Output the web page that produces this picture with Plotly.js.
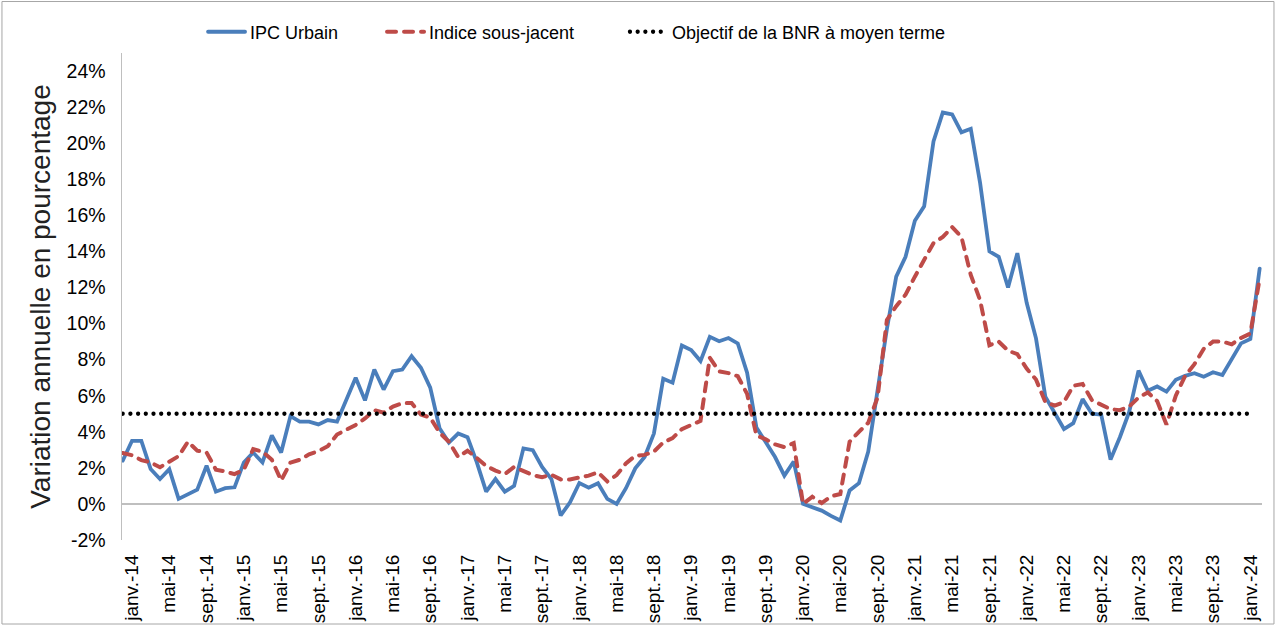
<!DOCTYPE html>
<html>
<head>
<meta charset="utf-8">
<script src="https://cdn.plot.ly/plotly-3.0.1.min.js"></script>
<style>
  html, body { margin: 0; padding: 0; background: #fff; }
  #chart { width: 1276px; height: 626px; }
  .js-line { stroke-linecap: round; }
</style>
</head>
<body>
<div id="chart"></div>
<script>
// Month abbreviations (French) and years covered: déc.-13 to févr.-24
const monthNames = ['janv.', 'févr.', 'mars', 'avr.', 'mai', 'juin', 'juil.', 'août', 'sept.', 'oct.', 'nov.', 'déc.'];
const categories = ['déc.-13'];
for (let y = 14; y <= 23; y++) {
  for (let m = 0; m < 12; m++) categories.push(monthNames[m] + '-' + y);
}
categories.push('janv.-24', 'févr.-24');

// Tick labels shown on the x axis (every 4 months)
const tickLabels = [
  'janv.-14','mai-14','sept.-14','janv.-15','mai-15','sept.-15','janv.-16','mai-16','sept.-16',
  'janv.-17','mai-17','sept.-17','janv.-18','mai-18','sept.-18','janv.-19','mai-19','sept.-19',
  'janv.-20','mai-20','sept.-20','janv.-21','mai-21','sept.-21','janv.-22','mai-22','sept.-22',
  'janv.-23','mai-23','sept.-23','janv.-24'
];

// Y axis ticks
const yTickValues = [-2, 0, 2, 4, 6, 8, 10, 12, 14, 16, 18, 20, 22, 24];
const yTickLabels = ['-2%', '0%', '2%', '4%', '6%', '8%', '10%', '12%', '14%', '16%', '18%', '20%', '22%', '24%'];

// IPC Urbain (annual % change)
const ipcUrbain = [
  2.4, 3.5, 3.5, 1.93, 1.38, 1.93, 0.28, 0.55, 0.79, 2.12,
  0.68, 0.87, 0.92, 2.3, 2.85, 2.3, 3.8, 2.85, 4.87, 4.56,
  4.56, 4.41, 4.65, 4.56, 5.8, 6.99, 5.74, 7.45, 6.34, 7.36,
  7.45, 8.19, 7.55, 6.45, 4.2, 3.4, 3.9, 3.7, 2.3, 0.68,
  1.38, 0.68, 1.0, 3.08, 2.98, 2.05, 1.38, -0.64, 0.09, 1.16,
  0.9, 1.15, 0.28, 0.0, 0.87, 1.97, 2.6, 3.9, 6.94, 6.72,
  8.78, 8.53, 7.92, 9.26, 9.02, 9.2, 8.9, 7.27, 4.24, 3.41,
  2.6, 1.57, 2.35, 0.0, -0.16, -0.37, -0.66, -0.92, 0.75, 1.15,
  2.9, 6.2, 9.7, 12.6, 13.7, 15.7, 16.5, 20.1, 21.7, 21.6,
  20.6, 20.8, 17.8, 14.0, 13.7, 12.0, 13.9, 11.15, 9.18, 5.95,
  5.0, 4.15, 4.48, 5.81, 5.0, 4.95, 2.46, 3.7, 5.1, 7.39,
  6.27, 6.51, 6.23, 6.88, 7.1, 7.25, 7.05, 7.3, 7.15, 8.0,
  8.9, 9.15, 13.05
];

// Indice sous-jacent (annual % change)
const indiceSousJacent = [
  2.82, 2.7, 2.43, 2.3, 2.03, 2.35, 2.65, 3.45, 2.95, 2.85,
  1.9, 1.8, 1.65, 1.9, 3.04, 2.9, 2.45, 1.3, 2.29, 2.45,
  2.75, 2.93, 3.2, 3.85, 4.13, 4.38, 4.74, 5.2, 5.06, 5.4,
  5.58, 5.6, 4.95, 4.79, 3.95, 3.45, 2.6, 2.95, 2.55, 2.1,
  1.85, 1.65, 2.05, 1.82, 1.6, 1.48, 1.62, 1.36, 1.36, 1.47,
  1.57, 1.75, 1.25, 1.6, 2.25, 2.67, 2.72, 2.9, 3.41, 3.65,
  4.15, 4.38, 4.6, 8.1, 7.35, 7.25, 7.08, 6.1, 3.8, 3.58,
  3.3, 3.15, 3.37, 0.0, 0.4, 0.05, 0.42, 0.55, 3.45, 4.0,
  4.5, 5.9, 10.2, 10.96, 11.6, 12.6, 13.5, 14.46, 14.8, 15.35,
  14.8, 12.7, 11.3, 8.8, 9.0, 8.5, 8.3, 7.5, 6.9, 5.65,
  5.45, 5.65, 6.55, 6.65, 5.75, 5.5, 5.25, 5.2, 5.4, 5.9,
  6.18, 5.7, 4.4, 6.0, 7.1, 7.75, 8.6, 9.0, 9.0, 8.85,
  9.2, 9.45, 12.5
];

// Objectif de la BNR à moyen terme (start and end of the horizontal line)
const objectifX = ['déc.-13', 'janv.-24'];
const objectifY = [5, 5];

const font = 'Liberation Sans, Arial, sans-serif';

const traces = [
  {
    x: categories, y: ipcUrbain, type: 'scatter', mode: 'lines',
    name: 'IPC Urbain', legend: 'legend',
    line: { color: '#4A7EBB', width: 3.8 }
  },
  {
    x: categories, y: indiceSousJacent, type: 'scatter', mode: 'lines',
    name: 'Indice sous-jacent', legend: 'legend2',
    line: { color: '#BE4B48', width: 4, dash: '9px,8px' }
  },
  {
    x: objectifX, y: objectifY, type: 'scatter', mode: 'lines',
    name: 'Objectif de la BNR à moyen terme', legend: 'legend3',
    line: { color: '#000000', width: 4.3, dash: '0px,7.7px' }
  }
];

const legendBase = {
  orientation: 'h', yanchor: 'middle', xanchor: 'left', y: 1.043,
  font: { family: font, size: 18, color: '#000' },
  bgcolor: 'rgba(0,0,0,0)', borderwidth: 0, itemwidth: 37
};

const layout = {
  width: 1276, height: 626,
  margin: { l: 122, r: 14, t: 53, b: 86, pad: 0 },
  paper_bgcolor: '#ffffff', plot_bgcolor: '#ffffff',
  font: { family: font, color: '#000' },
  showlegend: true,
  legend: Object.assign({}, legendBase, { x: 0.0711 }),
  legend2: Object.assign({}, legendBase, { x: 0.2281 }),
  legend3: Object.assign({}, legendBase, { x: 0.4412 }),
  xaxis: {
    type: 'category', categoryorder: 'array', categoryarray: categories,
    range: [-0.075, 122.25],
    tickmode: 'array', tickvals: tickLabels, ticktext: tickLabels,
    tickangle: -90, tickfont: { family: font, size: 19, color: '#000' },
    showgrid: false, zeroline: false, showline: false,
    ticks: 'outside', ticklen: 6, tickcolor: 'rgba(0,0,0,0)'
  },
  yaxis: {
    range: [-2, 25], tickmode: 'array', tickvals: yTickValues, ticktext: yTickLabels,
    tickfont: { family: font, size: 19.5, color: '#000' },
    showgrid: false, showline: true, linecolor: '#BFBFBF', linewidth: 1.5,
    zeroline: true, zerolinecolor: '#BFBFBF', zerolinewidth: 1.5,
    ticks: 'outside', ticklen: 11, tickcolor: 'rgba(0,0,0,0)',
    title: { text: 'Variation annuelle en pourcentage', font: { family: font, size: 28, color: '#222' }, standoff: 8 }
  },
  shapes: [{
    type: 'rect', xref: 'paper', yref: 'paper',
    x0: -0.1053, x1: 1.0105, y0: -0.1725, y1: 1.1057,
    line: { color: '#A6A6A6', width: 1 }, fillcolor: 'rgba(0,0,0,0)', layer: 'below'
  }]
};

Plotly.newPlot('chart', traces, layout, { displayModeBar: false, staticPlot: true });
</script>
</body>
</html>
